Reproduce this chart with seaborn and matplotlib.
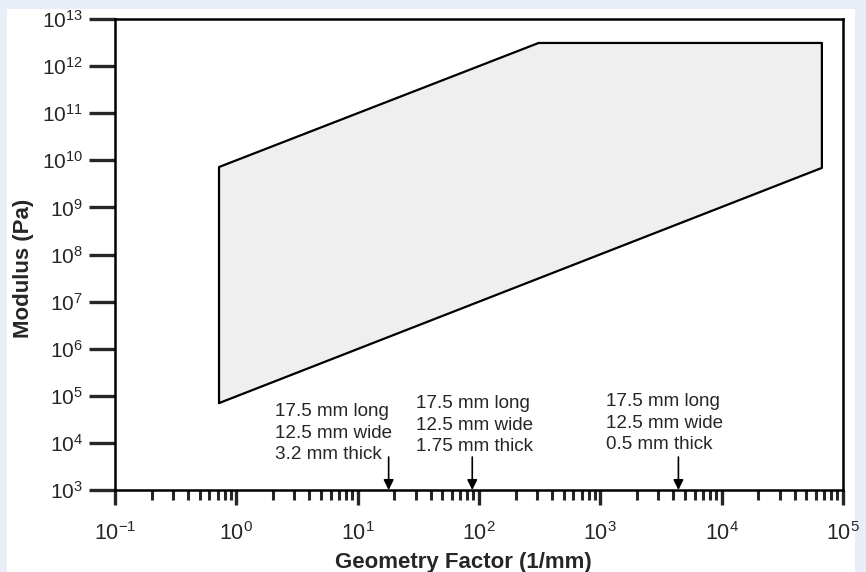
import numpy as np
import pandas as pd
import matplotlib
matplotlib.use("Agg")
import matplotlib.pyplot as plt
import seaborn as sns
from matplotlib.patches import Rectangle
from matplotlib.ticker import FixedLocator, FixedFormatter, LogLocator, NullFormatter

# ---- data ----
poly_x = [0.72, 0.72, 310, 67000, 67000, 0.72]
poly_y = [7.0e4, 7.2e9, 3.1e12, 3.1e12, 6.9e9, 7.0e4]

sample_gf = [18, 88, 4400]
sample_labels = [
    "17.5 mm long\n12.5 mm wide\n3.2 mm thick",
    "17.5 mm long\n12.5 mm wide\n1.75 mm thick",
    "17.5 mm long\n12.5 mm wide\n0.5 mm thick",
]

x_ticks = [1e-1, 1e0, 1e1, 1e2, 1e3, 1e4, 1e5]
x_ticklabels = [r"$\mathregular{10^{-1}}$", r"$\mathregular{10^{0}}$", r"$\mathregular{10^{1}}$",
                r"$\mathregular{10^{2}}$", r"$\mathregular{10^{3}}$", r"$\mathregular{10^{4}}$",
                r"$\mathregular{10^{5}}$"]
y_ticks = [10.0 ** e for e in range(3, 14)]
y_ticklabels = [r"$\mathregular{10^{%d}}$" % e for e in range(3, 14)]

# ---- style ----
sns.set_style("white")
plt.rcParams["font.family"] = ["Liberation Sans", "DejaVu Sans"]
plt.rcParams["mathtext.default"] = "regular"

fig = plt.figure(figsize=(8.66, 5.72), dpi=100, facecolor="#e8eef8")
bg = Rectangle((7 / 866, 0), (855 - 7) / 866, (572 - 9) / 572,
               transform=fig.transFigure, facecolor="white", edgecolor="none", zorder=-10)
fig.add_artist(bg)
ax = fig.add_axes([115 / 866, 1 - 490 / 572, (843 - 115) / 866, (490 - 19) / 572])
ax.set_zorder(1)
ax.set_facecolor("white")

ax.fill(poly_x, poly_y, color="#efefef", zorder=1)
df = pd.DataFrame({"x": poly_x, "y": poly_y})
sns.lineplot(data=df, x="x", y="y", sort=False, estimator=None, color="black",
             linewidth=1.6, ax=ax, zorder=2)

ax.set_xscale("log")
ax.set_yscale("log")
ax.set_xlim(1e-1, 1e5)
ax.set_ylim(1e3, 1e13)

ax.xaxis.set_major_locator(FixedLocator(x_ticks))
ax.xaxis.set_major_formatter(FixedFormatter(x_ticklabels))
ax.xaxis.set_minor_locator(LogLocator(base=10, subs=np.arange(2, 10)))
ax.xaxis.set_minor_formatter(NullFormatter())
ax.yaxis.set_major_locator(FixedLocator(y_ticks))
ax.yaxis.set_major_formatter(FixedFormatter(y_ticklabels))
ax.yaxis.set_minor_locator(FixedLocator([]))

for s in ax.spines.values():
    s.set_linewidth(1.8)
    s.set_color("black")

ax.tick_params(axis="x", which="major", direction="out", length=11, width=2.4,
               labelsize=15.5, pad=12, bottom=True)
ax.tick_params(axis="x", which="minor", direction="out", length=7, width=2.2, bottom=True)
ax.tick_params(axis="y", which="major", direction="out", length=19, width=2.4,
               labelsize=15, pad=4, left=True)

ax.set_xlabel("Geometry Factor (1/mm)", fontsize=16, fontweight="bold", labelpad=5, x=0.478)
ax.set_ylabel("Modulus (Pa)", fontsize=16, fontweight="bold", labelpad=6, y=0.471)

# annotations
text_pos = [(2.07, 10 ** 4.21), (30.5, 10 ** 4.38), (1110, 10 ** 4.42)]
for gf, lab, (tx, ty) in zip(sample_gf, sample_labels, text_pos):
    ax.text(tx, ty, lab, fontsize=13.6, ha="left", va="center", linespacing=1.32, zorder=3)
    ax.annotate("", xy=(gf, 1e3), xytext=(gf, 10 ** 3.7),
                arrowprops=dict(arrowstyle="-|>", color="black", lw=1.2,
                                mutation_scale=15, shrinkA=0, shrinkB=0), zorder=3)

fig.savefig("out.png", dpi=100, facecolor=fig.get_facecolor())
